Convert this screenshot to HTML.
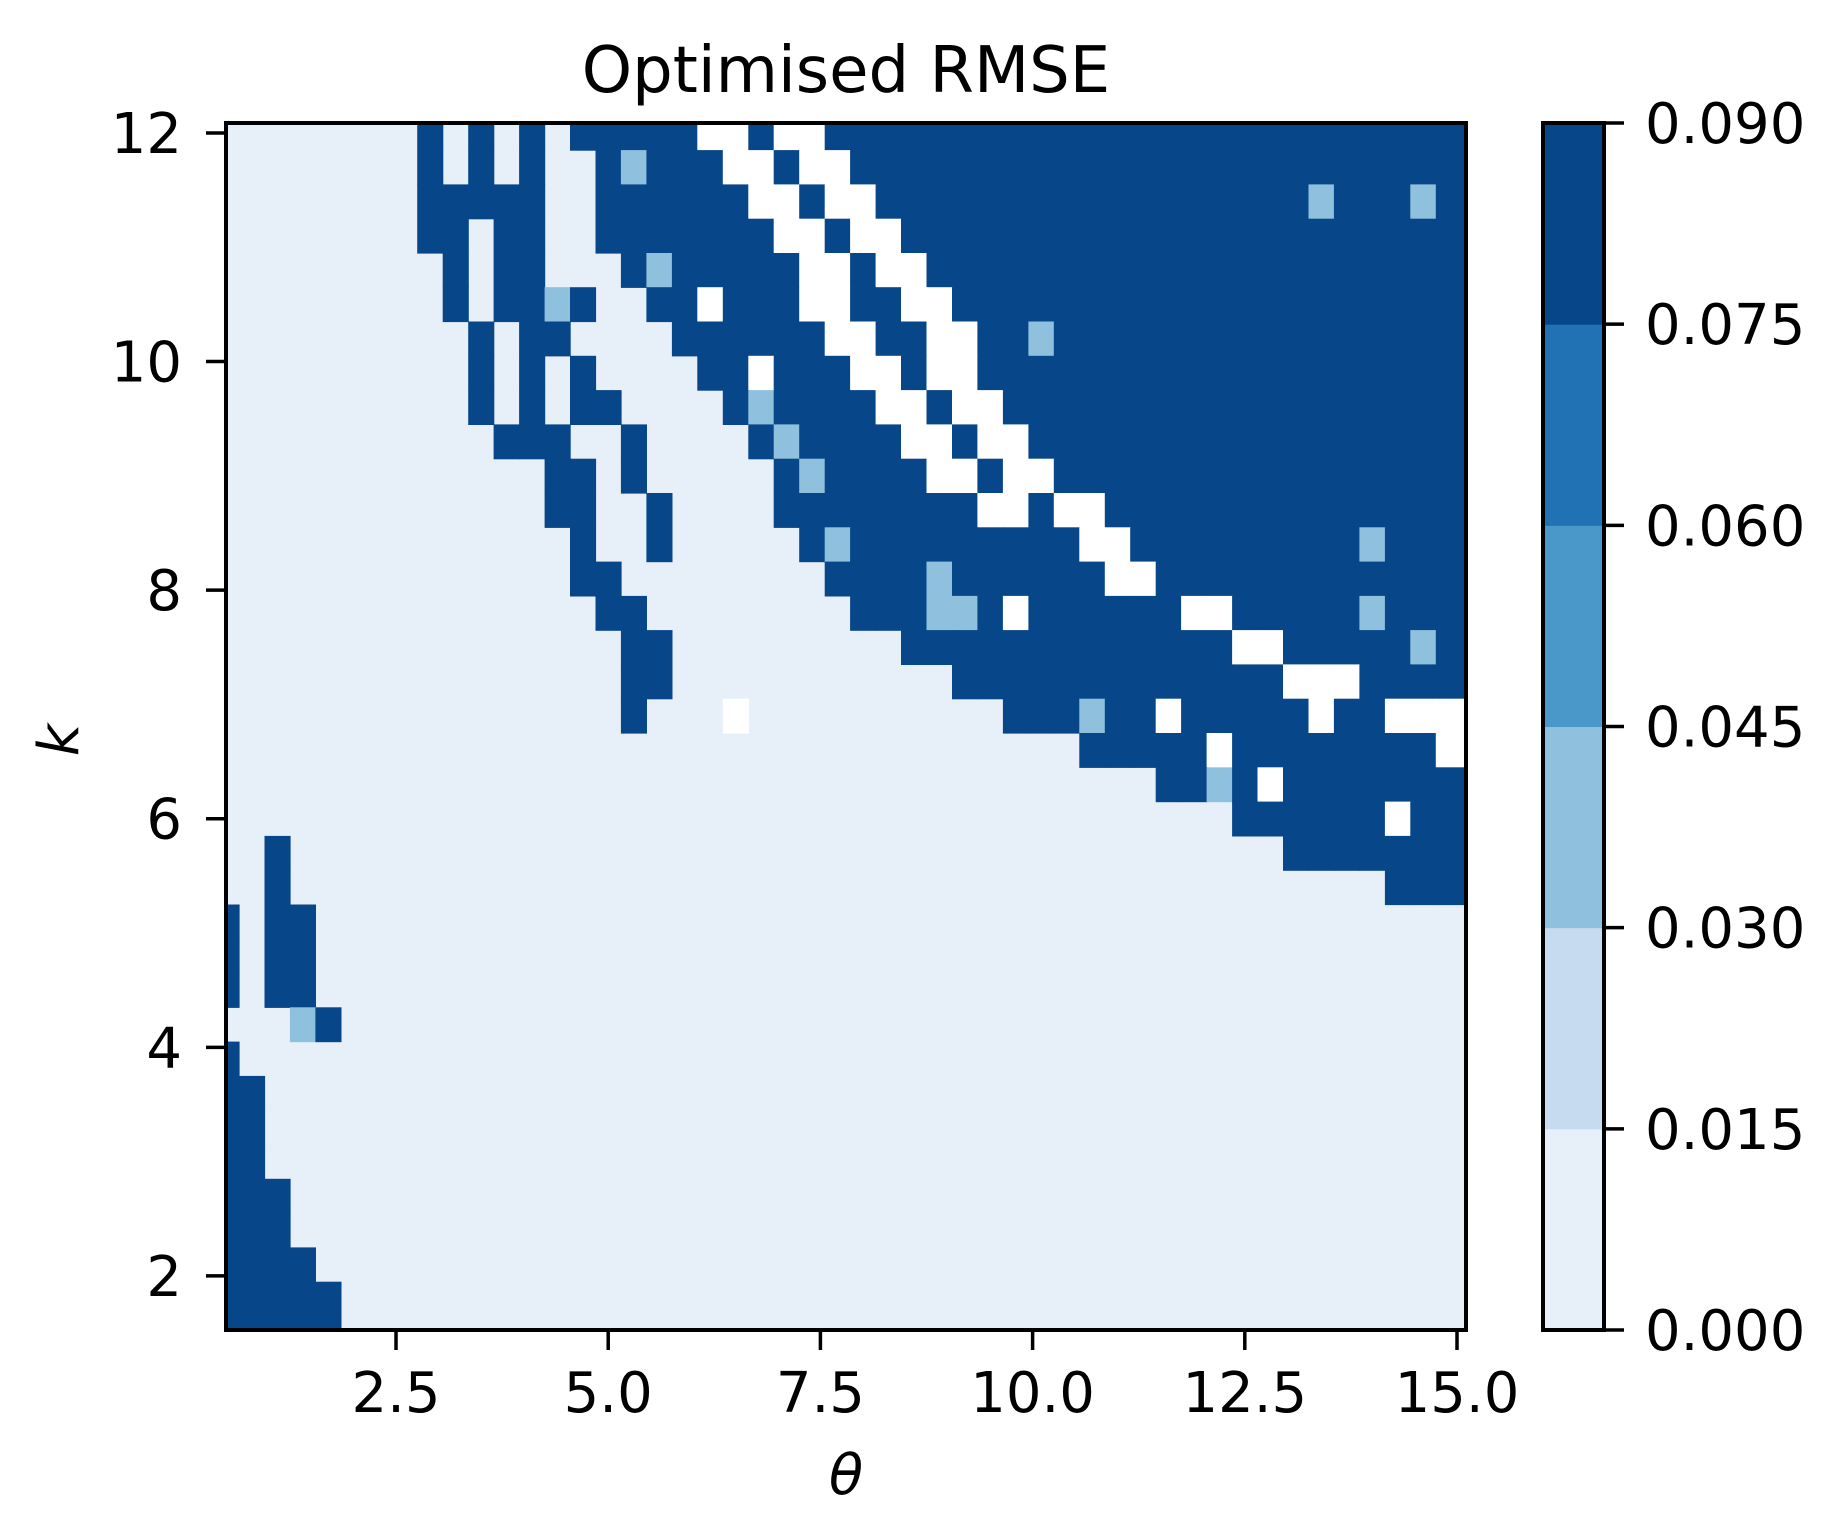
<!DOCTYPE html>
<html><head><meta charset="utf-8"><style>
html,body{margin:0;padding:0;background:#fff;}
svg{display:block;}
text{font-family:"DejaVu Sans","Liberation Sans",sans-serif;fill:#000;}
</style></head>
<body>
<svg id="chart" width="1841" height="1540" viewBox="0 0 1841 1540" xmlns="http://www.w3.org/2000/svg">
<g id="cells"></g>
<rect x="226" y="123" width="1240" height="1207" fill="none" stroke="#000" stroke-width="4"/>
<g id="xticks"></g>
<g id="yticks"></g>
<text x="846" y="92" font-size="64" text-anchor="middle">Optimised RMSE</text>
<text x="846" y="1494" font-size="56" font-style="italic" text-anchor="middle">θ</text>
<text x="0" y="0" font-size="56" font-style="italic" text-anchor="middle" transform="translate(78,740) rotate(-90)">k</text>
<g id="cbar"></g>
</svg>
<script>
// grid axes
const thetaStart = 0.5, thetaStep = 0.3, nCols = 49;
const kTop = 12.0, kStep = 0.3;
// level codes: 0..5 contour band, w = above top level
const levelColors = ['#e7eff9','#c6dbef','#8fc1de','#4a97c9','#2171b5','#08468a'];
const colorbarLevels = [0, 0.015, 0.03, 0.045, 0.06, 0.075, 0.09];
const colorbarLabels = ['0.000','0.015','0.030','0.045','0.060','0.075','0.090'];
const xTickValues = [2.5, 5.0, 7.5, 10.0, 12.5, 15.0];
const xTickLabels = ['2.5','5.0','7.5','10.0','12.5','15.0'];
const yTickValues = [2, 4, 6, 8, 10, 12];
const yTickLabels = ['2','4','6','8','10','12'];
// run-length encoded rows (level:count), top row k=12 downward
const gridRows = [
"0:8 5:1 0:1 5:1 0:1 5:1 0:1 5:5 w:2 5:1 w:2 5:25",
"0:8 5:1 0:1 5:1 0:1 5:1 0:2 5:1 2:1 5:3 w:2 5:1 w:2 5:24",
"0:8 5:5 0:2 5:6 w:2 5:1 w:2 5:17 2:1 5:3 2:1 5:1",
"0:8 5:2 0:1 5:2 0:2 5:7 w:2 5:1 w:2 5:22",
"0:9 5:1 0:1 5:2 0:3 5:1 2:1 5:5 w:2 5:1 w:2 5:21",
"0:9 5:1 0:1 5:2 2:1 5:1 0:2 5:2 w:1 5:3 w:2 5:2 w:2 5:20",
"0:10 5:1 0:1 5:2 0:4 5:6 w:2 5:2 w:2 5:2 2:1 5:16",
"0:10 5:1 0:1 5:1 0:1 5:1 0:4 5:2 w:1 5:3 w:2 5:1 w:2 5:19",
"0:10 5:1 0:1 5:1 0:1 5:2 0:4 5:1 2:1 5:4 w:2 5:1 w:2 5:18",
"0:11 5:3 0:2 5:1 0:4 5:1 2:1 5:4 w:2 5:1 w:2 5:17",
"0:13 5:2 0:1 5:1 0:5 5:1 2:1 5:4 w:2 5:1 w:2 5:16",
"0:13 5:2 0:2 5:1 0:4 5:8 w:2 5:1 w:2 5:14",
"0:14 5:1 0:2 5:1 0:5 5:1 2:1 5:9 w:2 5:9 2:1 5:3",
"0:14 5:2 0:8 5:4 2:1 5:6 w:2 5:12",
"0:15 5:2 0:8 5:3 2:2 5:1 w:1 5:6 w:2 5:5 2:1 5:3",
"0:16 5:2 0:9 5:13 w:2 5:5 2:1 5:1",
"0:16 5:2 0:11 5:13 w:3 5:4",
"0:16 5:1 0:3 w:1 0:10 5:3 2:1 5:2 w:1 5:5 w:1 5:2 w:3",
"0:34 5:5 w:1 5:8 w:1",
"0:37 5:2 2:1 5:1 w:1 5:7",
"0:40 5:6 w:1 5:2",
"0:2 5:1 0:39 5:7",
"0:2 5:1 0:43 5:3",
"5:1 0:1 5:2 0:45",
"5:1 0:1 5:2 0:45",
"5:1 0:1 5:2 0:45",
"0:3 2:1 5:1 0:44",
"5:1 0:48",
"5:2 0:47",
"5:2 0:47",
"5:2 0:47",
"5:3 0:46",
"5:3 0:46",
"5:4 0:45",
"5:5 0:44",
"5:5 0:44"
];

const AX = {left:226, right:1466, top:123, bottom:1330, xmin:0.497, xmax:15.106, ymin:1.527, ymax:12.087};
function xs(v){ return AX.left + (v-AX.xmin)/(AX.xmax-AX.xmin)*(AX.right-AX.left); }
function ys(v){ return AX.bottom - (v-AX.ymin)/(AX.ymax-AX.ymin)*(AX.bottom-AX.top); }
const NS = 'http://www.w3.org/2000/svg';
function mk(tag, attrs, parent){ const e=document.createElementNS(NS,tag); for(const k in attrs) e.setAttribute(k, attrs[k]); parent.appendChild(e); return e; }
function decode(rle){
  let s = '';
  rle.trim().split(/\s+/).forEach(p => { const [c, n] = p.split(':'); s += c.repeat(+n); });
  return s;
}

const cellG = document.getElementById('cells');
mk('rect',{x:AX.left,y:AX.top,width:AX.right-AX.left,height:AX.bottom-AX.top,fill:levelColors[0]},cellG);
gridRows.forEach((rle, j) => {
  const row = decode(rle);
  const k = kTop - kStep*j;
  let y0 = ys(Math.min(AX.ymax, k + kStep/2)), y1 = ys(Math.max(AX.ymin, k - kStep/2));
  for (let i = 0; i < nCols; i++) {
    const c = row[i] || '0';
    if (c === '0') continue;
    const th = thetaStart + thetaStep*i;
    let x0 = xs(Math.max(AX.xmin, th - thetaStep/2));
    let x1 = xs(i === nCols-1 ? AX.xmax : Math.min(AX.xmax, th + thetaStep/2));
    const r = mk('rect',{x:x0.toFixed(1),y:y0.toFixed(1),width:(x1-x0+0.6).toFixed(1),height:(y1-y0+0.6).toFixed(1),fill:c==='w'?'#ffffff':levelColors[+c]},cellG);
    
    
  }
});

const xg = document.getElementById('xticks');
xTickValues.forEach((v, n) => {
  const x = xs(v);
  const t = mk('line',{x1:x,x2:x,y1:AX.bottom,y2:AX.bottom+20,stroke:'#000','stroke-width':3.5},xg);
  
  
  const l = mk('text',{x:x,y:1412,'font-size':56,'text-anchor':'middle'},xg);
  l.textContent = xTickLabels[n];
  
  
});
const yg = document.getElementById('yticks');
yTickValues.forEach((v, n) => {
  const y = ys(v);
  const t = mk('line',{x1:AX.left-20,x2:AX.left,y1:y,y2:y,stroke:'#000','stroke-width':3.5},yg);
  
  
  const l = mk('text',{x:182,y:y+20,'font-size':56,'text-anchor':'end'},yg);
  l.textContent = yTickLabels[n];
  
  
});

const CB = {left:1543, right:1604, top:123, bottom:1330};
const cb = document.getElementById('cbar');
function cy(v){ return CB.bottom - (v-colorbarLevels[0])/(colorbarLevels[colorbarLevels.length-1]-colorbarLevels[0])*(CB.bottom-CB.top); }
for (let b = 0; b < colorbarLevels.length-1; b++) {
  const y0 = cy(colorbarLevels[b+1]), y1 = cy(colorbarLevels[b]);
  const r = mk('rect',{x:CB.left,y:y0,width:CB.right-CB.left,height:y1-y0+0.5,fill:levelColors[b]},cb);
  
  
}
mk('rect',{x:CB.left,y:CB.top,width:CB.right-CB.left,height:CB.bottom-CB.top,fill:'none',stroke:'#000','stroke-width':4},cb);
colorbarLevels.forEach((v, n) => {
  const y = cy(v);
  const t = mk('line',{x1:CB.right,x2:CB.right+20,y1:y,y2:y,stroke:'#000','stroke-width':3.5},cb);
  
  
  const l = mk('text',{x:1645,y:y+20,'font-size':56},cb);
  l.textContent = colorbarLabels[n];
  
  
});
</script>
</body></html>
